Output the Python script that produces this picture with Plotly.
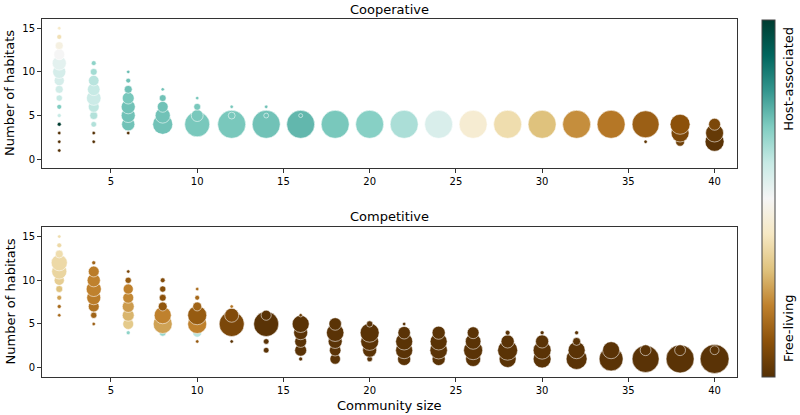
import numpy as np
import plotly.graph_objects as go

# ---------------- data ----------------
# Cooperative panel: community size, number of habitats, frequency (bubble size), host-association (colour 0..1)
coop_size = [2]*15 + [4]*10 + [6]*8 + [8]*5 + [10]*4 + [12]*3 + [14]*3 + [16]*2 + \
            [18, 20, 22, 24, 26, 28, 30, 32, 34] + [36]*2 + [38]*3 + [40]*3
coop_habitats = list(range(1, 16)) + list(range(2, 12)) + list(range(3, 11)) + list(range(4, 9)) + \
                [4, 5, 6, 7] + [4, 5, 6] + [4, 5, 6] + [4, 5] + [4]*9 + [2, 4] + [2, 3, 4] + [2, 3, 4]
coop_freq = [1.5, 1.5, 1.5, 2, 2, 3, 5, 8, 13, 22, 25, 15, 8, 3, 1.5,
             1.5, 1.5, 4, 8, 15, 27, 20, 14, 6, 3,
             1.5, 22, 25, 25, 18, 8, 3, 1.5,
             51, 29, 15, 6, 1.5,
             80, 18, 6, 1.5,
             100, 6, 1.5,
             100, 3, 1.5,
             100, 2,
             100, 100, 100, 100, 100, 100, 100, 100, 100,
             1.5, 93,
             10, 41, 51,
             46, 41, 18]
coop_host = [0.0, 0.0, 0.0, 1.0, 0.6, 0.7, 0.6, 0.58, 0.57, 0.57, 0.54, 0.5, 0.46, 0.38, 0.41,
             0.0, 0.0, 0.63, 0.63, 0.61, 0.59, 0.6, 0.62, 0.65, 0.68,
             0.0, 0.72, 0.72, 0.72, 0.71, 0.72, 0.72, 0.73,
             0.72, 0.72, 0.72, 0.72, 0.72,
             0.71, 0.71, 0.71, 0.71,
             0.71, 0.71, 0.71,
             0.72, 0.72, 0.72,
             0.74, 0.74,
             0.71, 0.69, 0.64, 0.56, 0.43, 0.37, 0.3, 0.22, 0.18,
             0.02, 0.13,
             0.05, 0.07, 0.1,
             0.01, 0.03, 0.07]

# Competitive panel
comp_size = [2]*10 + [4]*8 + [6]*8 + [8]*7 + [10]*7 + [12]*4 + [14]*4 + [16]*6 + [18]*5 + \
            [20]*5 + [22]*5 + [24]*4 + [26]*4 + [28]*4 + [30]*4 + [32]*4 + [34]*2 + [36]*2 + [38]*2 + [40]*2
comp_habitats = list(range(6, 16)) + list(range(5, 13)) + list(range(4, 12)) + list(range(4, 11)) + \
                list(range(3, 10)) + [3, 5, 6, 7] + [2, 3, 5, 6] + list(range(1, 7)) + list(range(1, 6)) + \
                list(range(1, 6)) + list(range(1, 6)) + [1, 2, 3, 4]*5 + [1, 2]*4
comp_freq = [1.5, 2, 3, 6, 13, 29, 33, 8, 3, 1.5,
             1.5, 5, 15, 25, 29, 22, 15, 2,
             2, 15, 18, 18, 15, 13, 5, 1.5,
             6, 46, 37, 10, 6, 5, 3,
             1.5, 10, 46, 46, 10, 3, 1.5,
             1.5, 80, 25, 1.5,
             4, 4, 80, 13,
             2, 18, 18, 25, 37, 1.5,
             14, 17, 25, 39, 20,
             4, 25, 41, 46, 5,
             22, 37, 37, 20, 1.5,
             22, 39, 37, 22,
             29, 46, 31, 18,
             37, 51, 22, 3,
             41, 41, 22, 2,
             56, 37, 8, 2,
             73, 37,
             93, 15,
             100, 15,
             107, 10]
comp_host = [0.15, 0.15, 0.25, 0.3, 0.33, 0.35, 0.36, 0.37, 0.36, 0.37,
             0.13, 0.14, 0.17, 0.19, 0.2, 0.2, 0.19, 0.14,
             0.68, 0.32, 0.28, 0.24, 0.21, 0.2, 0.12, 0.07,
             0.67, 0.25, 0.2, 0.11, 0.1, 0.09, 0.08,
             0.12, 0.62, 0.2, 0.12, 0.14, 0.15, 0.16,
             0.01, 0.07, 0.08, 0.18,
             0.01, 0.01, 0.01, 0.01,
             0.01, 0.01, 0.01, 0.01, 0.01, 0.04,
             0.01, 0.01, 0.01, 0.01, 0.01,
             0.01, 0.01, 0.01, 0.01, 0.01,
             0.01, 0.01, 0.01, 0.01, 0.01,
             0.01, 0.01, 0.01, 0.01,
             0.01, 0.01, 0.01, 0.01,
             0.01, 0.01, 0.01, 0.01,
             0.01, 0.01, 0.01, 0.01,
             0.01, 0.01, 0.01, 0.01,
             0.01, 0.01,
             0.01, 0.01,
             0.01, 0.01,
             0.01, 0.01]

x_ticks = [5, 10, 15, 20, 25, 30, 35, 40]
y_ticks = [0, 5, 10, 15]
cbar_ticks = [0.134, 0.835]
cbar_labels = ["Free-living", "Host-associated"]

# ---------------- styling ----------------
BRBG = [[0.0, "rgb(84,48,5)"], [0.1, "rgb(140,81,10)"], [0.2, "rgb(191,129,45)"],
        [0.3, "rgb(223,194,125)"], [0.4, "rgb(246,232,195)"], [0.5, "rgb(245,245,245)"],
        [0.6, "rgb(199,234,229)"], [0.7, "rgb(128,205,193)"], [0.8, "rgb(53,151,143)"],
        [0.9, "rgb(1,102,94)"], [1.0, "rgb(0,60,48)"]]
FONT = "DejaVu Sans"
MAX_D = 28.0
CB_TOP, CB_BOT = 20.0, 376.7
EDGE = "rgba(255,255,255,0.55)"


def sizes(freq):
    return [MAX_D * np.sqrt(f / 100.0) for f in freq]


fig = go.Figure()
fig.add_trace(go.Scatter(
    x=coop_size, y=coop_habitats, mode="markers", xaxis="x", yaxis="y",
    marker=dict(size=sizes(coop_freq), color=coop_host, colorscale=BRBG, cmin=0, cmax=1, opacity=1,
                line=dict(color=EDGE, width=1), showscale=True,
                colorbar=dict(x=761.7 / 800, xanchor="left", y=1 - (CB_TOP + CB_BOT) / 2 / 415,
                              yanchor="middle", len=(CB_BOT - CB_TOP) / 415, lenmode="fraction",
                              thickness=13, thicknessmode="pixels",
                              xpad=0, ypad=0, outlinewidth=1, outlinecolor="#444",
                              showticklabels=False, ticks="")),
    showlegend=False, hoverinfo="skip"))
fig.add_trace(go.Scatter(
    x=comp_size, y=comp_habitats, mode="markers", xaxis="x2", yaxis="y2",
    marker=dict(size=sizes(comp_freq), color=comp_host, colorscale=BRBG, cmin=0, cmax=1, opacity=1,
                line=dict(color=EDGE, width=1), showscale=False),
    showlegend=False, hoverinfo="skip"))

xd = [42 / 800, 737 / 800]
axis_common = dict(showline=True, mirror=True, linecolor="#333", linewidth=1, showgrid=False,
                   zeroline=False, ticks="outside", ticklen=4, tickcolor="#333",
                   tickfont=dict(size=10, color="black", family=FONT))
fig.update_layout(
    width=800, height=415, margin=dict(l=0, r=0, t=0, b=0, autoexpand=False),
    paper_bgcolor="white", plot_bgcolor="white",
    font=dict(family=FONT, color="black"),
    xaxis=dict(domain=xd, range=[1.0, 41.3], tickvals=x_ticks, anchor="y", **axis_common),
    yaxis=dict(domain=[1 - 168 / 415, 1 - 19 / 415], range=[-1.0, 16.05], tickvals=y_ticks,
               anchor="x", **axis_common),
    xaxis2=dict(domain=xd, range=[1.0, 41.3], tickvals=x_ticks, anchor="y2", **axis_common),
    yaxis2=dict(domain=[1 - 376.7 / 415, 1 - 227.3 / 415], range=[-1.03, 16.06], tickvals=y_ticks,
                anchor="x2", **axis_common),
)

ann = dict(xref="paper", yref="paper", showarrow=False, font=dict(size=13, color="black", family=FONT))
fig.add_annotation(text="Cooperative", x=389.5 / 800, y=1 - 9.3 / 415, xanchor="center", yanchor="middle", **ann)
fig.add_annotation(text="Competitive", x=389.5 / 800, y=1 - 216.7 / 415, xanchor="center", yanchor="middle", **ann)
fig.add_annotation(text="Community size", x=389.5 / 800, y=1 - 405 / 415, xanchor="center", yanchor="middle", **ann)
fig.add_annotation(text="Number of habitats", x=9.5 / 800, y=1 - 93.5 / 415, textangle=-90,
                   xanchor="center", yanchor="middle", **ann)
fig.add_annotation(text="Number of habitats", x=9.5 / 800, y=1 - 302 / 415, textangle=-90,
                   xanchor="center", yanchor="middle", **ann)
# colourbar labels, placed at their colour-scale positions
for val, lab in zip(cbar_ticks, cbar_labels):
    fig.add_annotation(text=lab, x=789 / 800, y=1 - (CB_BOT - val * (CB_BOT - CB_TOP)) / 415,
                       textangle=-90, xanchor="center", yanchor="middle", **ann)

# remove the page's default body margin so the 800x415 figure fills the window exactly
fig.write_html("out.html", config={"displayModeBar": False},
               post_script="document.body.style.margin='0px';document.body.style.overflow='hidden';")
